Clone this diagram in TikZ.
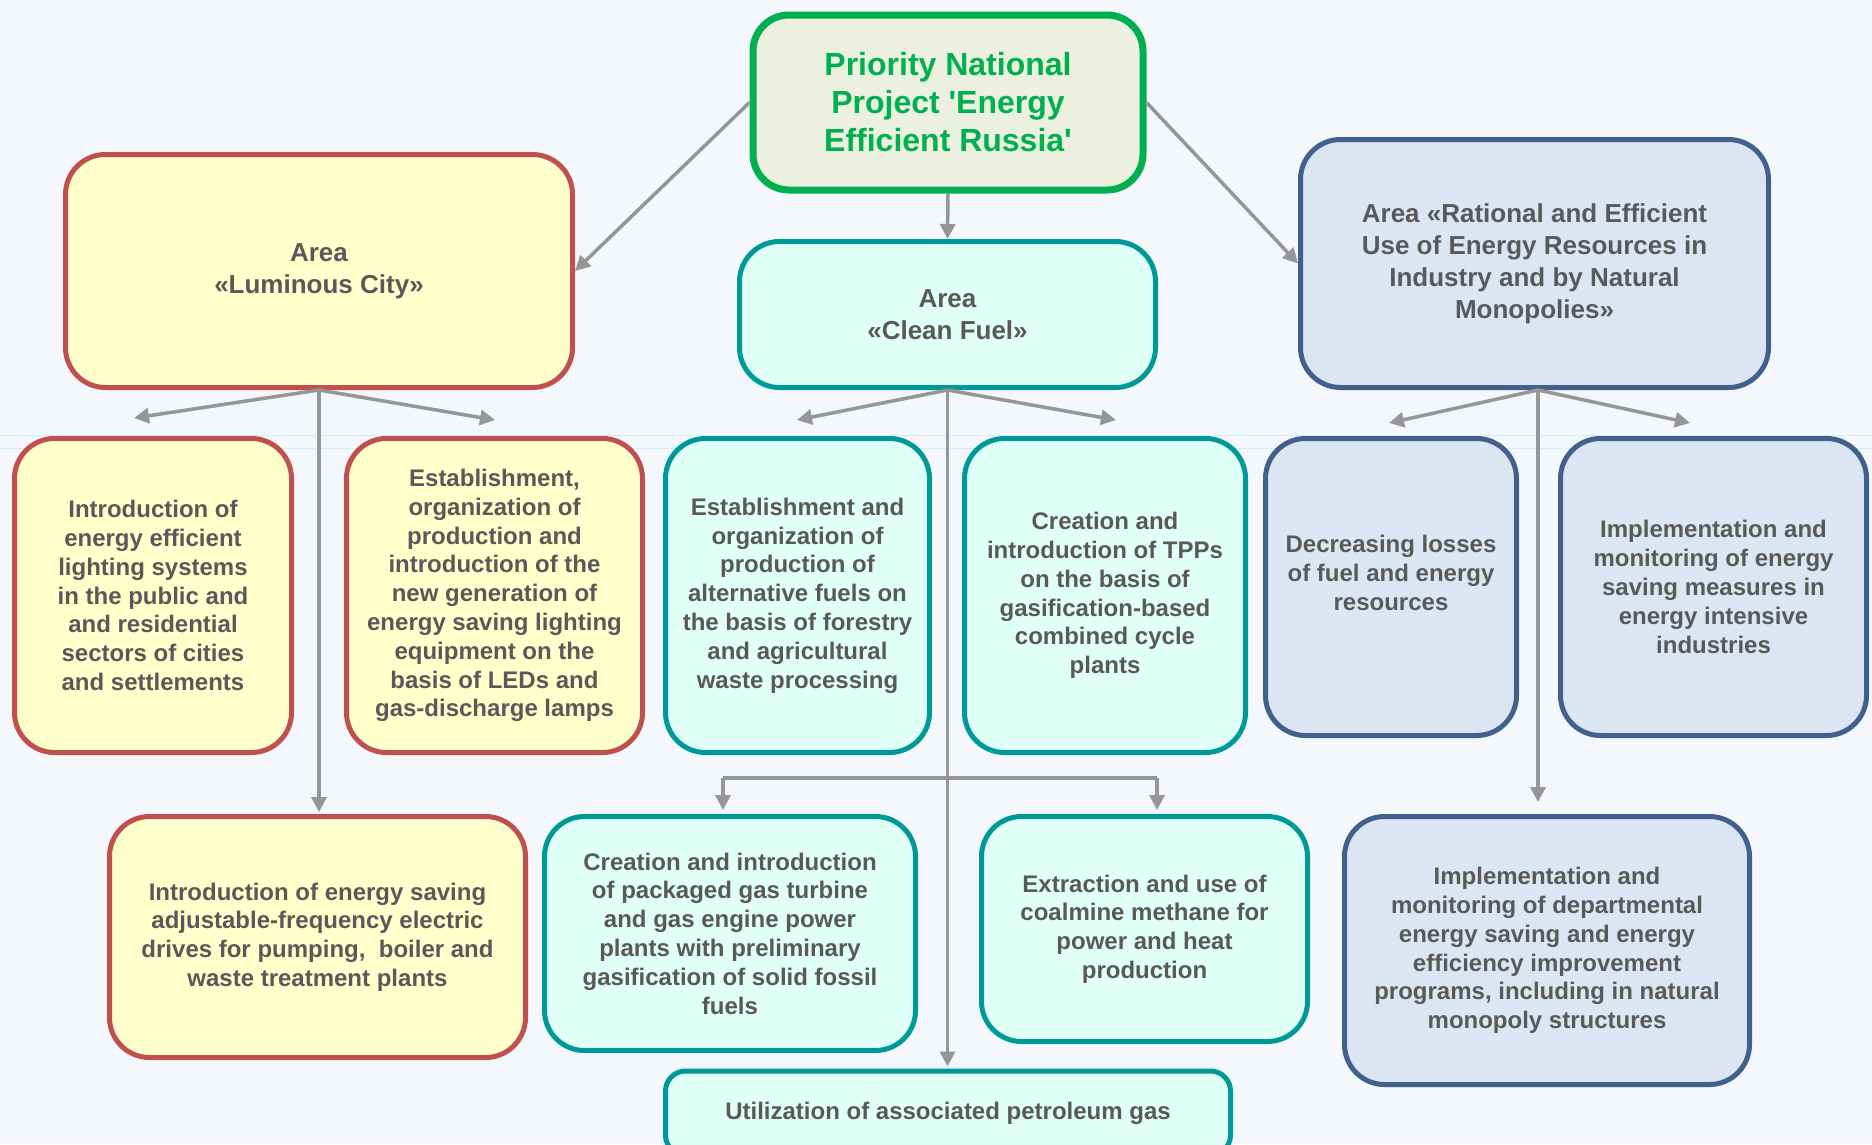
\documentclass[tikz,border=0pt]{standalone}
\usepackage{fontspec}
\setmainfont{Liberation Sans}[Ligatures=TeXOff]
\usetikzlibrary{arrows.meta}
\definecolor{bgc}{HTML}{F4F7FB}
\definecolor{bgline}{HTML}{D2EDF7}
\definecolor{txt}{HTML}{595959}
\definecolor{greenc}{HTML}{00B050}
\definecolor{greenf}{HTML}{EBF1DE}
\definecolor{redc}{HTML}{C0504D}
\definecolor{redf}{HTML}{FFFFCC}
\definecolor{tealc}{HTML}{009999}
\definecolor{tealf}{HTML}{E0FFF6}
\definecolor{bluec}{HTML}{41608D}
\definecolor{bluef}{HTML}{DCE6F2}
\definecolor{arrc}{HTML}{969696}
\begin{document}
\begin{tikzpicture}[x=1pt,y=-1pt,
  box/.style={rounded corners=40pt, line width=5pt, align=center, text=txt,
    font=\fontsize{24}{28.8}\selectfont\bfseries, inner sep=0pt},
  titlefont/.style={font=\fontsize{26}{32}\selectfont\bfseries},
  redbox/.style={box, draw=redc, fill=redf},
  tealbox/.style={box, draw=tealc, fill=tealf},
  bluebox/.style={box, draw=bluec, fill=bluef},
  greenbox/.style={box, draw=greenc, fill=greenf, line width=7pt, rounded corners=36pt,
    text=greenc, font=\fontsize{32}{38}\selectfont\bfseries},
  arr/.style={draw=arrc, line width=3.5pt, -{Triangle[length=15pt,width=15pt]}},
  ln/.style={draw=arrc, line width=3.5pt}]
\useasboundingbox (0,0) rectangle (1872,1144);
\clip (0,0) rectangle (1872,1144);
\fill[bgc] (0,0) rectangle (1872,1144);
\draw[bgline, line width=1pt] (0,435) -- (1872,435);
\draw[bgline, line width=1pt] (0,448) -- (1872,448);

% top level
\node[greenbox, minimum width=390pt, minimum height=175pt] (top) at (948,102.5)
  {Priority National\\Project 'Energy\\Efficient Russia'};

% areas
\node[redbox, titlefont, minimum width=507pt, minimum height=233pt] (lum) at (319,271)
  {Area\\«Luminous City»};
\node[tealbox, titlefont, minimum width=416pt, minimum height=146pt] (clean) at (947.5,314.5)
  {Area\\«Clean Fuel»};
\node[bluebox, titlefont, minimum width=468pt, minimum height=248pt] (rat) at (1534.5,263.5)
  {Area «Rational and Efficient\\Use of Energy Resources in\\Industry and by Natural\\Monopolies»};

% second row
\node[redbox, minimum width=277pt, minimum height=314pt] (intro) at (153,595.5)
  {Introduction of\\energy efficient\\lighting systems\\in the public and\\and residential\\sectors of cities\\and settlements};
\node[redbox, minimum width=296pt, minimum height=314pt] (led) at (494.5,595.5)
  {Establishment,\\organization of\\production and\\introduction of the\\new generation of\\energy saving lighting\\equipment on the\\basis of LEDs and\\gas-discharge lamps};
\node[tealbox, minimum width=264pt, minimum height=314pt] (alt) at (797.5,595.5)
  {Establishment and\\organization of\\production of\\alternative fuels on\\the basis of forestry\\and agricultural\\waste processing};
\node[tealbox, minimum width=281pt, minimum height=314pt] (tpp) at (1105,595.5)
  {Creation and\\introduction of TPPs\\on the basis of\\gasification-based\\combined cycle\\plants};
\node[bluebox, minimum width=251pt, minimum height=297pt] (decr) at (1391,587)
  {Decreasing losses\\of fuel and energy\\resources\\\mbox{}};
\node[bluebox, minimum width=306pt, minimum height=297pt] (impl) at (1713.5,587)
  {Implementation and\\monitoring of energy\\saving measures in\\energy intensive\\industries};

% third row
\node[redbox, minimum width=416pt, minimum height=241pt] (adj) at (317.5,937)
  {Introduction of energy saving\\adjustable-frequency electric\\drives for pumping,\ \ boiler and\\waste treatment plants};
\node[tealbox, minimum width=371pt, minimum height=234pt] (pack) at (730,933.5)
  {Creation and introduction\\of packaged gas turbine\\and gas engine power\\plants with preliminary\\gasification of solid fossil\\fuels};
\node[tealbox, minimum width=326pt, minimum height=225pt] (coal) at (1144.5,929)
  {Extraction and use of\\coalmine methane for\\power and heat\\production};
\node[bluebox, minimum width=405pt, minimum height=268pt] (dept) at (1547,950.5)
  {Implementation and\\monitoring of departmental\\energy saving and energy\\efficiency improvement\\programs, including in natural\\monopoly structures};
\node[tealbox, rounded corners=20pt, minimum width=565pt, minimum height=84pt] (apg) at (948,1113)
  {Utilization of associated petroleum gas};

% connectors from top
\draw[arr] (top.west) -- (lum.east);
\draw[arr] (top.south) -- (clean.north);
\draw[arr] (top.east) -- (rat.west);

% luminous fan
\coordinate (lumL) at (134,418);
\coordinate (lumR) at (495,420);
\draw[arr] (lum.south) -- (lumL);
\draw[arr] (lum.south) -- (lumR);
\draw[arr] (lum.south) -- ([yshift=2pt]lum.south |- adj.north);

% clean fuel fan
\coordinate (clL) at (797,420);
\coordinate (clR) at (1116,420);
\coordinate (cbL) at (723,778);
\coordinate (cbR) at (1157,778);
\draw[arr] (clean.south) -- (clL);
\draw[arr] (clean.south) -- (clR);
\draw[arr] (clean.south) -- ([yshift=2pt]clean.south |- apg.north);
\draw[ln] (cbL) -- (cbR);
\draw[arr] (cbL) -- ([yshift=4pt]cbL |- pack.north);
\draw[arr] (cbR) -- ([yshift=4pt]cbR |- coal.north);

% rational fan
\coordinate (ratO) at ([xshift=3.5pt]rat.south);
\coordinate (raL) at (1389,423);
\coordinate (raR) at (1690,423);
\draw[arr] (ratO) -- (raL);
\draw[arr] (ratO) -- (raR);
\draw[arr] (ratO) -- ([yshift=12pt]ratO |- dept.north);
\end{tikzpicture}
\end{document}
